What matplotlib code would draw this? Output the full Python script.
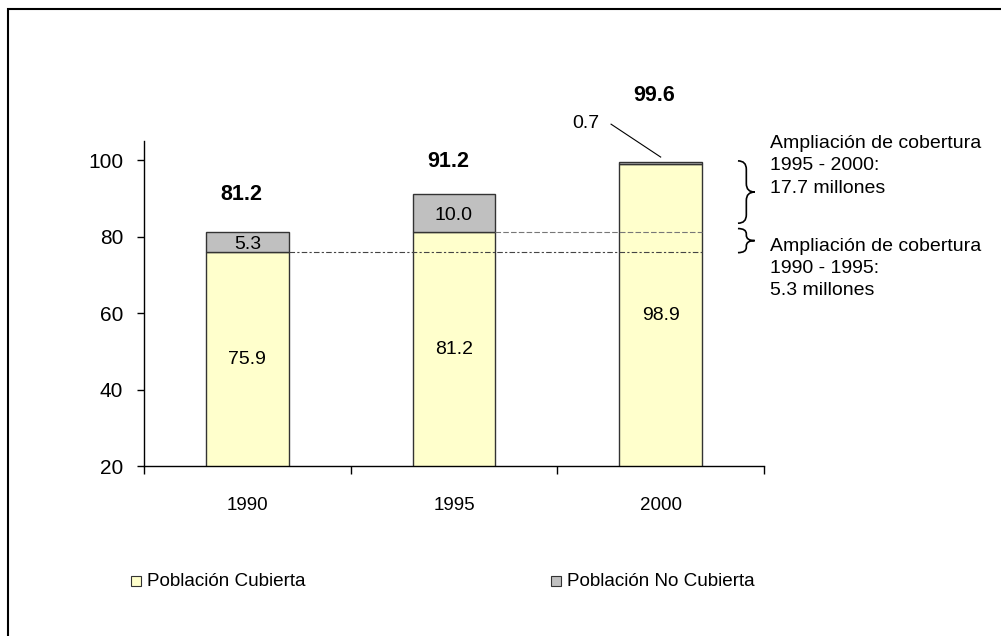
import matplotlib
matplotlib.use("Agg")
import matplotlib.pyplot as plt
from matplotlib.path import Path
from matplotlib.patches import PathPatch, Rectangle
from matplotlib.transforms import blended_transform_factory

plt.rcParams['font.family'] = ['Liberation Sans', 'DejaVu Sans']

years = ['1990', '1995', '2000']
cubierta = [75.9, 81.2, 98.9]
no_cubierta = [5.3, 10.0, 0.7]
totales = [81.2, 91.2, 99.6]
yticks = [20, 40, 60, 80, 100]

yellow = '#FFFFCC'
gray = '#C0C0C0'

fig = plt.figure(figsize=(10.01, 6.36), dpi=100)
ax = fig.add_axes([144 / 1001, 1 - 466 / 636, 620 / 1001, 325 / 636])

x = list(range(len(years)))
w = 0.4
ax.bar(x, cubierta, width=w, color=yellow, edgecolor='#333333', linewidth=1)
ax.bar(x, no_cubierta, width=w, bottom=cubierta, color=gray, edgecolor='#333333', linewidth=1)

ax.set_ylim(20, 105)
ax.set_xlim(-0.5, 2.5)
ax.set_yticks(yticks)
ax.set_xticks([-0.5, 0.5, 1.5, 2.5])
ax.set_xticklabels([])
ax.set_xticks(x, minor=True)
ax.set_xticklabels(years, minor=True)
ax.tick_params(axis='x', which='major', direction='out', length=6, width=1)
ax.tick_params(axis='x', which='minor', length=0, pad=22, labelsize=13.5)
ax.tick_params(axis='y', direction='out', length=5, width=1, pad=10, labelsize=15)
for s in ['top', 'right']:
    ax.spines[s].set_visible(False)
for s in ['left', 'bottom']:
    ax.spines[s].set_linewidth(1)

# labels inside bars
for i in x:
    ax.text(i, (20 + cubierta[i]) / 2, f"{cubierta[i]:.1f}", ha='center', va='center', fontsize=14)
for i in [0, 1]:
    ax.text(i, cubierta[i] + no_cubierta[i] / 2 - 0.6, f"{no_cubierta[i]:.1f}", ha='center', va='center',
            fontsize=14)
# 0.7 with leader line
ax.text(1.637, 109.7, f"{no_cubierta[2]:.1f}", ha='center', va='center', fontsize=14, clip_on=False)
ax.plot([1.76, 2.0], [109.4, totales[2] + 1.2], color='black', lw=0.8, clip_on=False)

# totals in bold
offs = [9.8, 8.4, 17.2]
for i in x:
    ax.text(i - 0.03, totales[i] + offs[i], f"{totales[i]:.1f}", ha='center', va='center',
            fontsize=15.5, fontweight='bold', clip_on=False)

# dashed reference lines
ax.plot([0 + w / 2, 2 + w / 2], [cubierta[0], cubierta[0]], color='#444444', lw=0.8,
        linestyle=(0, (5, 2, 2, 2)))
ax.plot([1 + w / 2, 2 + w / 2], [cubierta[1], cubierta[1]], color='#777777', lw=0.8,
        linestyle=(0, (5, 2)))

# braces
tr = blended_transform_factory(ax.transAxes, ax.transData)


def brace(top, bot, x0=0.958, x1=0.985, r=1.8):
    mid = (top + bot) / 2
    xm = (x0 + x1) / 2
    verts = [(x0, top), (xm, top), (xm, top - r), (xm, mid + r), (xm, mid), (x1, mid),
             (xm, mid), (xm, mid - r), (xm, bot + r), (xm, bot), (x0, bot)]
    codes = [Path.MOVETO, Path.CURVE3, Path.CURVE3, Path.LINETO, Path.CURVE3, Path.CURVE3,
             Path.CURVE3, Path.CURVE3, Path.LINETO, Path.CURVE3, Path.CURVE3]
    ax.add_patch(PathPatch(Path(verts, codes), transform=tr, fill=False, lw=1.2,
                           edgecolor='black', clip_on=False))


brace(99.8, 83.5, r=2.2)
brace(82.1, 75.8, r=1.4)

ax.text(1.0097, 98.5, "Ampliación de cobertura\n1995 - 2000:\n17.7 millones", transform=tr,
        ha='left', va='center', fontsize=14, linespacing=1.4)
ax.text(1.0097, 71.7, "Ampliación de cobertura\n1990 - 1995:\n5.3 millones", transform=tr,
        ha='left', va='center', fontsize=14, linespacing=1.4)

# legend
for lx, col, lab in [(131, yellow, 'Población Cubierta'), (551, gray, 'Población No Cubierta')]:
    fig.patches.append(Rectangle((lx / 1001, 1 - 586 / 636), 10 / 1001, 10 / 636,
                                 transform=fig.transFigure, facecolor=col, edgecolor='#333333', lw=0.8))
    fig.text((lx + 16) / 1001, 1 - 581 / 636, lab, ha='left', va='center', fontsize=13.6)

# outer frame (only top and left visible)
fig.patches.append(Rectangle((8 / 1001, -0.2), 1.2, 1.2 - 9 / 636, transform=fig.transFigure,
                             fill=False, edgecolor='black', lw=1.5))

fig.savefig('out.png', dpi=100)
